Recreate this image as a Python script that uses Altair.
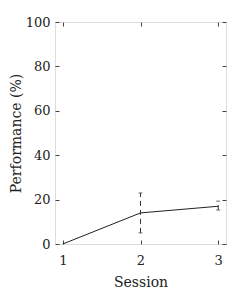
import altair as alt
import pandas as pd

sessions = [1, 2, 3]
perf = [0, 14, 17]
err_low = [0, 5, 15.3]
err_high = [0, 23, 19.3]

df = pd.DataFrame({"session": sessions, "perf": perf, "lo": err_low, "hi": err_high})
df_err = df[df["session"] > 1]

FONT = "DejaVu Serif"
xs = alt.Scale(domain=[0.9, 3.1], nice=False, zero=False)
ys = alt.Scale(domain=[0, 100], nice=False)

ax_common = dict(domain=False, grid=False, tickSize=4, offset=-4, tickColor="#444",
                 labelFont=FONT, labelFontSize=13, labelColor="#222", titleFont=FONT,
                 titleFontSize=14, titleFontWeight="normal", titleColor="#222")

x_bottom = alt.X("session:Q", scale=xs, axis=alt.Axis(values=[1, 2, 3], format="d", title="Session",
                 labelPadding=10, titlePadding=8, **ax_common))
y_left = alt.Y("perf:Q", scale=ys, axis=alt.Axis(values=[0, 20, 40, 60, 80, 100], title="Performance (%)",
               labelPadding=5, titlePadding=2, **ax_common))

line = alt.Chart(df).mark_line(color="#222", strokeWidth=1).encode(x=x_bottom, y=y_left)

xe = alt.X("session:Q", scale=xs, axis=None)
err = alt.Chart(df_err).mark_rule(color="#333", strokeWidth=1, strokeDash=[5, 4]).encode(
    x=xe, y=alt.Y("lo:Q", scale=ys, axis=None), y2="hi:Q")
cap_lo = alt.Chart(df_err).mark_tick(color="#333", orient="horizontal", size=4, thickness=1).encode(
    x=xe, y=alt.Y("lo:Q", scale=ys, axis=None))
cap_hi = alt.Chart(df_err).mark_tick(color="#333", orient="horizontal", size=4, thickness=1).encode(
    x=xe, y=alt.Y("hi:Q", scale=ys, axis=None))

mirror_common = dict(domain=False, grid=False, tickSize=4, offset=-4, tickColor="#444",
                     labels=False, title=None)
mirror = alt.Chart(df).mark_point(opacity=0).encode(
    x=alt.X("session:Q", scale=xs, axis=alt.Axis(orient="top", values=[1, 2, 3], **mirror_common)),
    y=alt.Y("perf:Q", scale=ys, axis=alt.Axis(orient="right", values=[0, 20, 40, 60, 80, 100], **mirror_common)),
)

chart = alt.layer(line, err, cap_lo, cap_hi, mirror).resolve_axis(
    x="independent", y="independent"
).properties(
    width=171, height=222,
    autosize=alt.AutoSizeParams(type="none"),
    padding={"left": 47, "top": 14, "right": 15, "bottom": 46},
).configure_view(stroke="#555", strokeWidth=1).configure(background="white"
).configure_axis(labelFont=FONT, titleFont=FONT)

chart.save("out.html", embed_options={"renderer": "svg", "actions": False})
